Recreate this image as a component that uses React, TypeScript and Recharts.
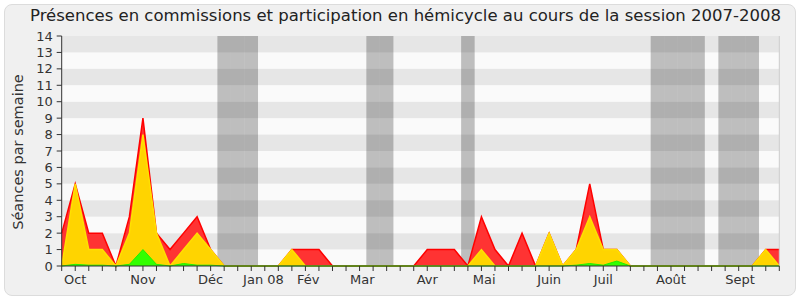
import { AreaChart, Area, XAxis, YAxis, ReferenceArea, ReferenceLine } from 'recharts';

// semaines de la session (index 0 = 1re semaine d'octobre 2007)
const weeks = Array.from({ length: 54 }, (_, i) => i);

// séances par semaine (valeurs cumulées)
const totalSeances = [
  2, 5, 2, 2, 0, 3, 9, 2, 1, 2, 3, 1, 0, 0, 0, 0, 0, 1, 1, 1, 0, 0, 0, 0, 0, 0, 0,
  1, 1, 1, 0, 3, 1, 0, 2, 0, 2, 0, 1, 5, 1, 1, 0, 0, 0, 0, 0, 0, 0, 0, 0, 0, 1, 1,
];
const hemicycle = [
  0, 5, 1, 1, 0, 2, 8, 2, 0, 1, 2, 1, 0, 0, 0, 0, 0, 1, 0, 0, 0, 0, 0, 0, 0, 0, 0,
  0, 0, 0, 0, 1, 0, 0, 0, 0, 2, 0, 1, 3, 1, 1, 0, 0, 0, 0, 0, 0, 0, 0, 0, 0, 1, 0,
];
const commissions = [
  0, 0.1, 0.05, 0.05, 0, 0.1, 1, 0.1, 0, 0.15, 0.05, 0.05, 0, 0, 0, 0, 0, 0, 0, 0, 0, 0, 0, 0, 0, 0, 0,
  0, 0, 0, 0, 0, 0, 0, 0, 0, 0, 0, 0.05, 0.15, 0.05, 0.3, 0, 0, 0, 0, 0, 0, 0, 0, 0, 0, 0, 0,
];

// semaines de vacances parlementaires
const vacances = [12, 13, 14, 23, 24, 30, 44, 45, 46, 47, 49, 50, 51];

// étiquettes des mois (position en semaines)
const monthPos = [1, 6, 11, 14.9, 18.2, 22.2, 27, 31.2, 36, 40, 45, 50.1];
const monthLabels = ['Oct', 'Nov', 'Déc', 'Jan 08', 'Fév', 'Mar', 'Avr', 'Mai', 'Juin', 'Juil', 'Août', 'Sept'];

const yTicks = Array.from({ length: 15 }, (_, i) => i);

const FONT = '"DejaVu Sans", sans-serif';

const chartData = weeks.map((w, i) => ({
  week: w,
  total: totalSeances[i],
  hemicycle: hemicycle[i],
  commissions: commissions[i],
}));

const xTicks = Array.from(new Set([...weeks, ...monthPos])).sort((a, b) => a - b);

function MonthTick(props: any) {
  const { x, y, payload } = props;
  const v = payload.value;
  const idx = monthPos.indexOf(v);
  return (
    <g>
      {Number.isInteger(v) && <line x1={x} x2={x} y1={y} y2={y + 5} stroke="#333" />}
      {idx >= 0 && (
        <text x={x} y={y + 18} textAnchor="middle" fontSize={13} fill="#333" fontFamily={FONT}>
          {monthLabels[idx]}
        </text>
      )}
    </g>
  );
}

if (typeof document !== 'undefined') document.body.style.margin = '0';

export default function App() {
  return (
    <div style={{ position: 'relative', width: 800, height: 300, background: '#fff' }}>
      <div
        style={{
          position: 'absolute', left: 4, top: 4, width: 790, height: 290,
          background: '#f0f0f0', border: '1px solid #dcdcdc', borderRadius: 8,
        }}
      />
      <div
        style={{
          position: 'absolute', left: 30, top: 6, fontFamily: FONT, fontSize: 16.5,
          color: '#222', whiteSpace: 'nowrap',
        }}
      >
        Présences en commissions et participation en hémicycle au cours de la session 2007-2008
      </div>
      <div
        style={{
          position: 'absolute', left: 18, top: 152, transform: 'translate(-50%, -50%) rotate(-90deg)',
          fontFamily: FONT, fontSize: 14.5, color: '#333', whiteSpace: 'nowrap',
        }}
      >
        Séances par semaine
      </div>
      <div style={{ position: 'absolute', left: 0, top: 0 }}>
        <AreaChart width={800} height={300} data={chartData} margin={{ top: 36, right: 20.7, left: 0, bottom: 4 }}>
          {yTicks.filter((t) => t % 2 === 1 && t < 14).map((t) => (
            <ReferenceArea key={'h' + t} y1={t} y2={t + 1} fill="#e6e6e6" fillOpacity={1} stroke="none" ifOverflow="hidden" />
          ))}
          {yTicks.filter((t) => t % 2 === 0 && t < 14).map((t) => (
            <ReferenceArea key={'l' + t} y1={t} y2={t + 1} fill="#fafafa" fillOpacity={1} stroke="none" ifOverflow="hidden" />
          ))}
          {vacances.map((w) => (
            <ReferenceArea key={'v' + w} x1={w - 0.5} x2={w + 0.5} fill="#000" fillOpacity={0.24} stroke="none" />
          ))}
          <ReferenceLine x={53} stroke="#cccccc" />
          <XAxis
            dataKey="week"
            type="number"
            domain={[0, 53]}
            ticks={xTicks}
            interval={0}
            tick={<MonthTick />}
            tickLine={false}
            tickSize={0}
            tickMargin={0}
            height={30}
            stroke="#333"
          />
          <YAxis
            type="number"
            domain={[0, 14]}
            ticks={yTicks}
            interval={0}
            width={61.7}
            tickSize={5}
            tickMargin={4}
            stroke="#333"
            tick={{ fill: '#333', fontSize: 13, fontFamily: FONT }}
          />
          <Area type="linear" dataKey="total" stroke="#ff0000" strokeWidth={1.5} fill="#ff3333" fillOpacity={1} isAnimationActive={false} />
          <Area type="linear" dataKey="hemicycle" stroke="#ffe000" strokeWidth={1.5} fill="#ffd400" fillOpacity={1} isAnimationActive={false} />
          <Area type="linear" dataKey="commissions" stroke="#22ee00" strokeWidth={1} fill="#33ff00" fillOpacity={1} isAnimationActive={false} />
        </AreaChart>
      </div>
    </div>
  );
}
